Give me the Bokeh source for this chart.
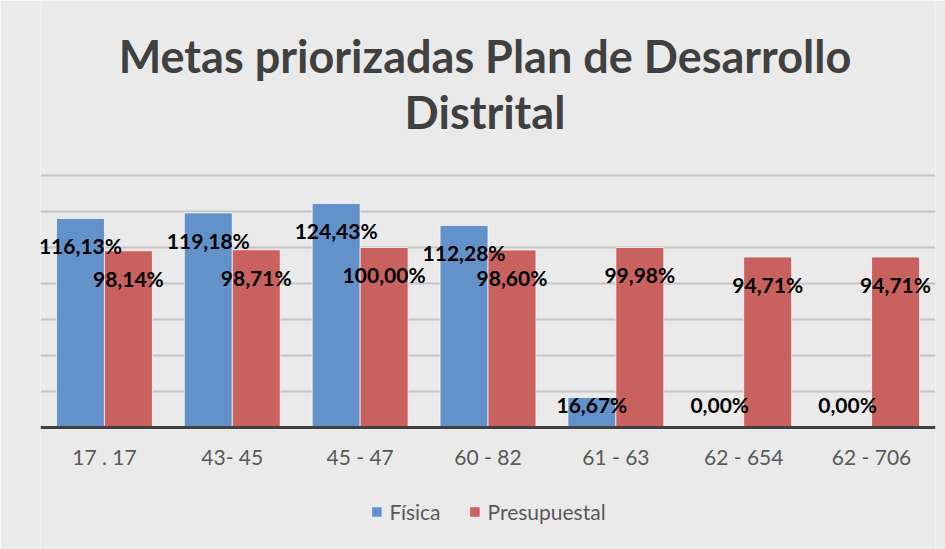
from bokeh.plotting import figure
from bokeh.models import (ColumnDataSource, FactorRange, FixedTicker, Legend, LegendItem,
                          Label, Range1d)
from bokeh.transform import dodge
from bokeh.core.properties import value
from bokeh.embed import file_html
from bokeh.resources import INLINE

categories = ["17 . 17", "43- 45", "45 - 47", "60 - 82", "61 - 63", "62 - 654", "62 - 706"]
fisica = [116.13, 119.18, 124.43, 112.28, 16.67, 0.00, 0.00]
presupuestal = [98.14, 98.71, 100.00, 98.60, 99.98, 94.71, 94.71]
series_names = ["Física", "Presupuestal"]
grid_ticks = [20, 40, 60, 80, 100, 120, 140]
title_lines = ["Metas priorizadas Plan de Desarrollo", "Distrital"]

BLUE = "#6391C9"
RED = "#C9615F"
BG = "#EAEAEA"
FONT = "Lato"

# layout (pixels): the frame fills the canvas height; y=0 sits at pixel row 427, y=140 at 175
CANVAS_H = 549
ZERO_PX = 427
PX_PER_UNIT = (427 - 175) / 140.0

def px_to_y(py):
    return (ZERO_PX - py) / PX_PER_UNIT

def fmt(v):
    return f"{v:.2f}".replace(".", ",") + "%"

def label_y(v):
    return max(v - 15.2, 12.9)

src = ColumnDataSource(dict(
    cat=categories,
    fis=fisica,
    pre=presupuestal,
    fis_lbl=[fmt(v) for v in fisica],
    pre_lbl=[fmt(v) for v in presupuestal],
    fis_y=[label_y(v) for v in fisica],
    pre_y=[label_y(v) for v in presupuestal],
))

p = figure(frame_width=895, frame_height=CANVAS_H, x_range=FactorRange(*categories),
           y_range=Range1d(px_to_y(CANVAS_H), px_to_y(0)),
           output_backend="svg", toolbar_location=None, title=None,
           min_border_left=40, min_border_right=10, min_border_top=0, min_border_bottom=0)
p.background_fill_color = BG
p.border_fill_color = BG
p.outline_line_color = None

r1 = p.vbar(x=dodge("cat", -0.1875, range=p.x_range), top="fis", width=0.375, source=src,
            fill_color=BLUE, line_color="white", line_alpha=0.7, line_width=1)
r2 = p.vbar(x=dodge("cat", 0.1875, range=p.x_range), top="pre", width=0.375, source=src,
            fill_color=RED, line_color="white", line_alpha=0.7, line_width=1)

p.text(x=dodge("cat", -0.1875, range=p.x_range), y="fis_y", text="fis_lbl", source=src,
       text_align="center", text_baseline="middle", text_font=value(FONT),
       text_font_style="bold", text_font_size="21px", text_color="black")
p.text(x=dodge("cat", 0.1875, range=p.x_range), y="pre_y", text="pre_lbl", source=src,
       text_align="center", text_baseline="middle", text_font=value(FONT),
       text_font_style="bold", text_font_size="21px", text_color="black")

p.yaxis.visible = False
p.xgrid.grid_line_color = None
p.ygrid.ticker = FixedTicker(ticks=grid_ticks)
p.ygrid.grid_line_color = "#C4C4C4"
p.ygrid.grid_line_width = 2

xa = p.xaxis[0]
xa.fixed_location = 0
xa.axis_line_color = "#404040"
xa.axis_line_width = 3
xa.major_tick_line_color = None
xa.minor_tick_line_color = None
xa.major_label_text_font = FONT
xa.major_label_text_font_size = "21px"
xa.major_label_text_color = "#595959"
xa.major_label_standoff = 10

for txt, base_px in zip(title_lines, [55, 111]):
    p.add_layout(Label(x=len(categories) / 2.0, y=px_to_y(base_px), text=txt, x_offset=-3,
                       text_align="center", text_baseline="alphabetic", text_font=FONT,
                       text_font_size="45px", text_font_style="bold", text_color="#404040"))

legend = Legend(items=[LegendItem(label=series_names[0], renderers=[r1]),
                       LegendItem(label=series_names[1], renderers=[r2])],
                orientation="horizontal", location="bottom_center",
                label_text_font=FONT, label_text_font_size="21px", label_text_color="#595959",
                glyph_width=13, glyph_height=13, label_standoff=7, spacing=27,
                background_fill_alpha=0, border_line_color=None, padding=0, margin=25)
p.add_layout(legend)

open("out.html", "w").write(file_html(p, INLINE))
